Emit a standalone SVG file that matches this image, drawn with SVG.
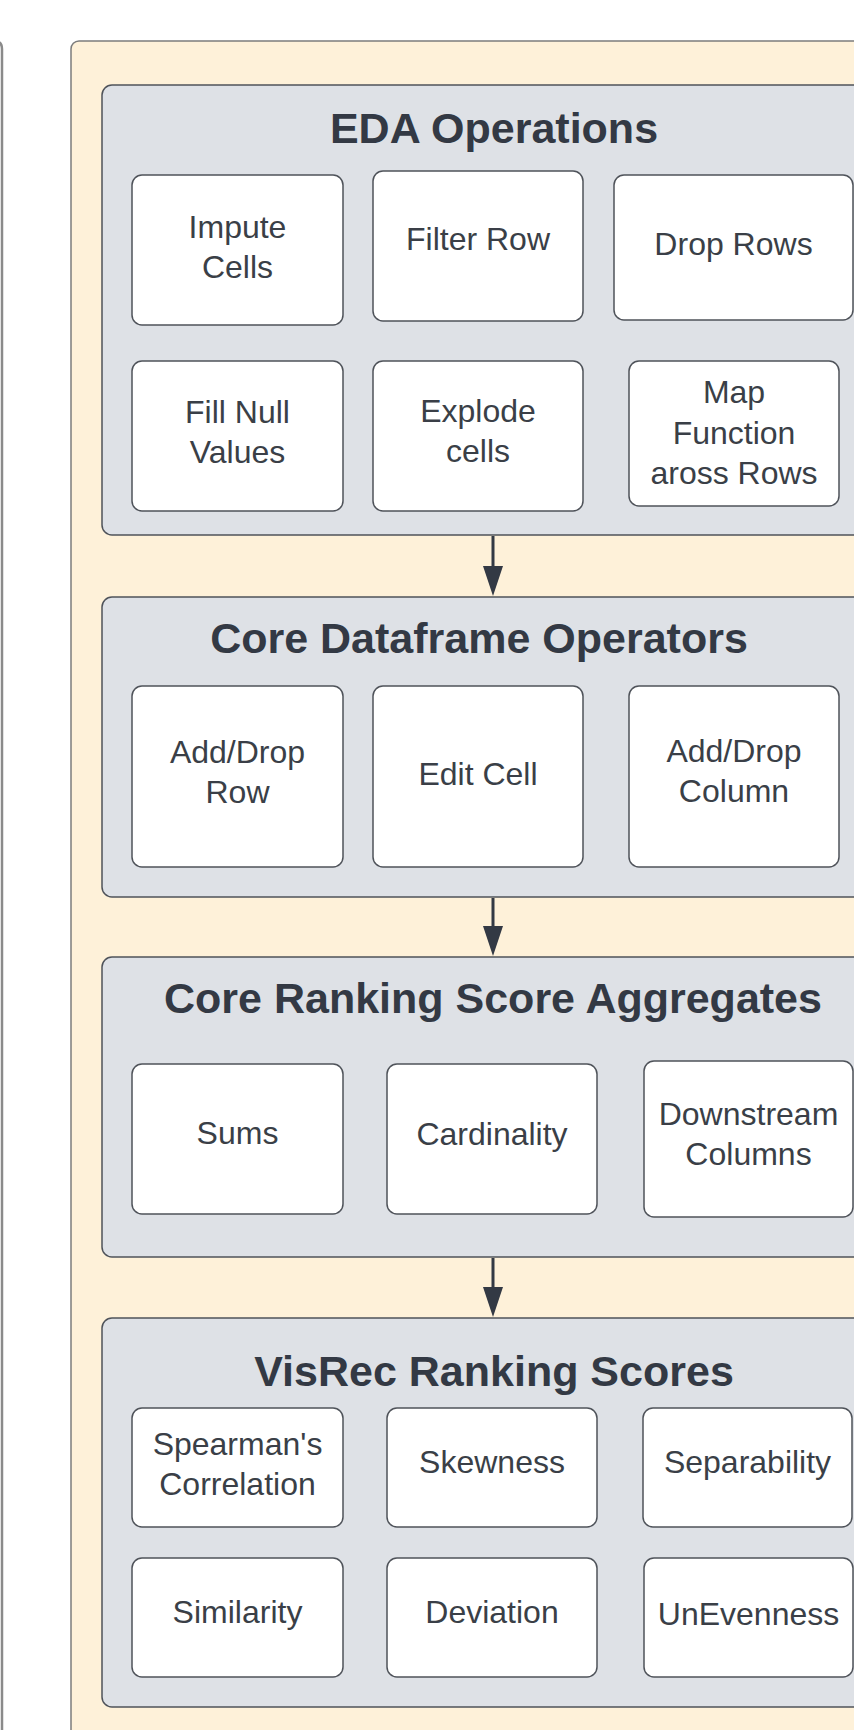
<svg xmlns="http://www.w3.org/2000/svg" width="854" height="1730" viewBox="0 0 854 1730">
<style>
.outer{fill:#FEF1D9;stroke:#7C7C7C;stroke-width:1.5}
.panel{fill:#DEE1E6;stroke:#4F535A;stroke-width:1.5}
.node{fill:#FFFFFF;stroke:#4F535A;stroke-width:1.5}
.title{font-family:"Liberation Sans",Arial,sans-serif;font-weight:bold;font-size:43px;fill:#333944;text-anchor:middle}
.lbl{font-family:"Liberation Sans",Arial,sans-serif;font-size:32px;fill:#3A3F47;text-anchor:middle}
.edge{stroke:#333944;stroke-width:3;fill:none}
</style>
<defs>
<marker id="arrow" viewBox="0 0 30 20" refX="20" refY="10" markerWidth="30" markerHeight="20" markerUnits="userSpaceOnUse" orient="auto">
<path d="M0,0 L30,10 L0,20 z" fill="#333944"/>
</marker>
</defs>
<rect width="854" height="1730" fill="#FFFFFF"/>
<path d="M-10,41 L-6,41 Q2,41 2,49 L2,1740" fill="none" stroke="#8A8A8A" stroke-width="2.5"/>
<rect class="outer" x="71" y="41" width="900" height="1800" rx="8"/>

<g id="eda">
<rect class="panel" x="102" y="85" width="800" height="450" rx="10"/>
<text class="title" x="494" y="143">EDA Operations</text>
</g>
<g id="impute-cells"><rect class="node" x="132" y="175" width="211" height="150" rx="10"/><text class="lbl" x="237.5" y="238">Impute</text><text class="lbl" x="237.5" y="278">Cells</text></g>
<g id="filter-row"><rect class="node" x="373" y="171" width="210" height="150" rx="10"/><text class="lbl" x="478" y="250">Filter Row</text></g>
<g id="drop-rows"><rect class="node" x="614" y="175" width="239" height="145" rx="10"/><text class="lbl" x="733.5" y="255">Drop Rows</text></g>
<g id="fill-null"><rect class="node" x="132" y="361" width="211" height="150" rx="10"/><text class="lbl" x="237.5" y="423">Fill Null</text><text class="lbl" x="237.5" y="463">Values</text></g>
<g id="explode-cells"><rect class="node" x="373" y="361" width="210" height="150" rx="10"/><text class="lbl" x="478" y="422">Explode</text><text class="lbl" x="478" y="462">cells</text></g>
<g id="map-function"><rect class="node" x="629" y="361" width="210" height="145" rx="10"/><text class="lbl" x="734" y="403">Map</text><text class="lbl" x="734" y="444">Function</text><text class="lbl" x="734" y="484">aross Rows</text></g>

<g id="core-dataframe">
<rect class="panel" x="102" y="597" width="800" height="300" rx="10"/>
<text class="title" x="479" y="653">Core Dataframe Operators</text>
</g>
<g id="add-drop-row"><rect class="node" x="132" y="686" width="211" height="181" rx="10"/><text class="lbl" x="237.5" y="763">Add/Drop</text><text class="lbl" x="237.5" y="803">Row</text></g>
<g id="edit-cell"><rect class="node" x="373" y="686" width="210" height="181" rx="10"/><text class="lbl" x="478" y="785">Edit Cell</text></g>
<g id="add-drop-column"><rect class="node" x="629" y="686" width="210" height="181" rx="10"/><text class="lbl" x="734" y="762">Add/Drop</text><text class="lbl" x="734" y="802">Column</text></g>

<g id="core-ranking">
<rect class="panel" x="102" y="957" width="800" height="300" rx="10"/>
<text class="title" x="493" y="1013">Core Ranking Score Aggregates</text>
</g>
<g id="sums"><rect class="node" x="132" y="1064" width="211" height="150" rx="10"/><text class="lbl" x="237.5" y="1144">Sums</text></g>
<g id="cardinality"><rect class="node" x="387" y="1064" width="210" height="150" rx="10"/><text class="lbl" x="492" y="1145">Cardinality</text></g>
<g id="downstream-columns"><rect class="node" x="644" y="1061" width="209" height="156" rx="10"/><text class="lbl" x="748.5" y="1125">Downstream</text><text class="lbl" x="748.5" y="1165">Columns</text></g>

<g id="visrec">
<rect class="panel" x="102" y="1318" width="800" height="389" rx="10"/>
<text class="title" x="494" y="1386">VisRec Ranking Scores</text>
</g>
<g id="spearman"><rect class="node" x="132" y="1408" width="211" height="119" rx="10"/><text class="lbl" x="237.5" y="1455">Spearman's</text><text class="lbl" x="237.5" y="1495">Correlation</text></g>
<g id="skewness"><rect class="node" x="387" y="1408" width="210" height="119" rx="10"/><text class="lbl" x="492" y="1473">Skewness</text></g>
<g id="separability"><rect class="node" x="643" y="1408" width="209" height="119" rx="10"/><text class="lbl" x="747.5" y="1473">Separability</text></g>
<g id="similarity"><rect class="node" x="132" y="1558" width="211" height="119" rx="10"/><text class="lbl" x="237.5" y="1623">Similarity</text></g>
<g id="deviation"><rect class="node" x="387" y="1558" width="210" height="119" rx="10"/><text class="lbl" x="492" y="1623">Deviation</text></g>
<g id="unevenness"><rect class="node" x="644" y="1558" width="209" height="119" rx="10"/><text class="lbl" x="748.5" y="1625">UnEvenness</text></g>

<g id="connectors">
<line class="edge" x1="493" y1="536" x2="493" y2="586" marker-end="url(#arrow)"/>
<line class="edge" x1="493" y1="898" x2="493" y2="946" marker-end="url(#arrow)"/>
<line class="edge" x1="493" y1="1258" x2="493" y2="1307" marker-end="url(#arrow)"/>
</g>
</svg>
